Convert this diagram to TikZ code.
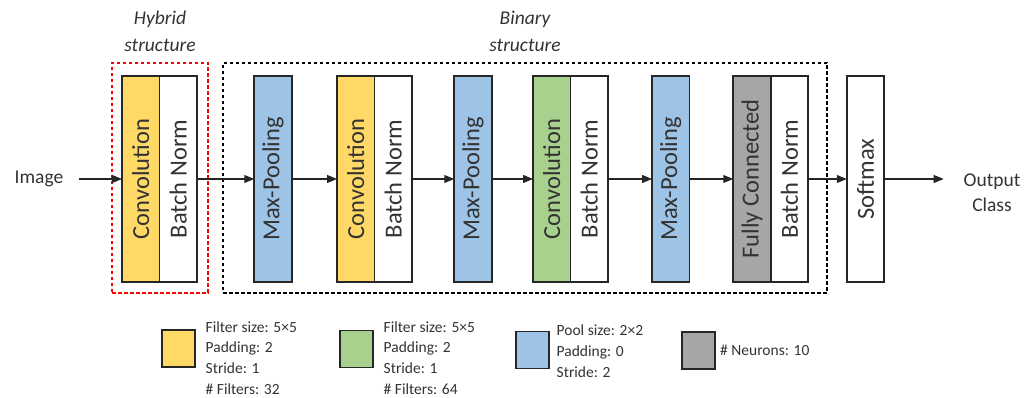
\documentclass[tikz,border=0pt]{standalone}
\usepackage{fontspec}
\setmainfont{Carlito}
\usepackage{graphicx}
\usetikzlibrary{arrows.meta,positioning}
\definecolor{convyellow}{HTML}{FFD966}
\definecolor{convgreen}{HTML}{A9D18E}
\definecolor{poolblue}{HTML}{9DC3E6}
\definecolor{fcgray}{HTML}{A6A6A6}
\definecolor{boxline}{HTML}{262626}
\definecolor{textgray}{HTML}{333333}
\begin{document}
\begin{tikzpicture}
[x=1pt,y=-1pt,
  blockdecorate/.style={shape=rectangle,draw=boxline,line width=1.6pt,minimum width=37.5pt,minimum height=206pt,inner sep=0pt,outer sep=0pt,text=textgray,font=\fontsize{24.5}{28}\selectfont},
  yellowdecorate/.style={blockdecorate,fill=convyellow},
  greendecorate/.style={blockdecorate,fill=convgreen},
  bluedecorate/.style={blockdecorate,fill=poolblue},
  graydecorate/.style={blockdecorate,fill=fcgray},
  whitedecorate/.style={blockdecorate,fill=white},
  framedecorate/.style={shape=rectangle,draw,line width=1.4pt,dash pattern=on 3.5pt off 2.5pt,inner sep=0pt},
  keydecorate/.style={shape=rectangle,draw=boxline,line width=1.6pt,minimum width=33pt,minimum height=37pt,inner sep=0pt},
  keytextdecorate/.style={anchor=west,align=left,inner sep=0pt,text=textgray,font=\fontsize{15.5}{20.7}\selectfont},
  labeldecorate/.style={align=center,inner sep=0pt,text=textgray,font=\fontsize{19.5}{25}\selectfont},
  titledecorate/.style={align=center,inner sep=0pt,text=textgray,font=\fontsize{19.5}{27}\selectfont\itshape},
  linedecorate/.style={-{Triangle[length=10pt,width=8pt]},line width=1.1pt,draw=boxline}]
\useasboundingbox (0,0) rectangle (1034,398);
% frames of the two structures
\node (hybrid) at (160,178) [framedecorate,draw=red,minimum width=96pt,minimum height=230pt] {};
\node (binary) at (525,178) [framedecorate,draw=black,minimum width=604pt,minimum height=230pt] {};
\node (hybridtitle) at (160,31.5) [titledecorate] {Hybrid\\structure};
\node (binarytitle) at (525,31.5) [titledecorate] {Binary\\structure};
% layers
\node (conv1) at (140.75,179) [yellowdecorate] {\rotatebox{90}{Convolution}};
\node (bn1) [whitedecorate,right=0pt of conv1] {\rotatebox{90}{Batch Norm}};
\node (mp1) at (273,179) [bluedecorate] {\rotatebox{90}{Max-Pooling}};
\node (conv2) at (355.75,179) [yellowdecorate] {\rotatebox{90}{Convolution}};
\node (bn2) [whitedecorate,right=0pt of conv2] {\rotatebox{90}{Batch Norm}};
\node (mp2) at (473,179) [bluedecorate] {\rotatebox{90}{Max-Pooling}};
\node (conv3) at (551.75,179) [greendecorate] {\rotatebox{90}{Convolution}};
\node (bn3) [whitedecorate,right=0pt of conv3] {\rotatebox{90}{Batch Norm}};
\node (mp3) at (670.75,179) [bluedecorate] {\rotatebox{90}{Max-Pooling}};
\node (fc) at (752,179) [graydecorate] {\rotatebox{90}{Fully Connected}};
\node (bn4) [whitedecorate,right=0pt of fc] {\rotatebox{90}{Batch Norm}};
\node (softmax) at (865.5,179) [whitedecorate] {\rotatebox{90}{Softmax}};
% input and output
\node (img) at (39,179) [labeldecorate,outer xsep=16pt] {Image};
\node (out) at (992,192.5) [labeldecorate,outer xsep=20pt] {Output\\Class};
% connectors
\path
(img) edge[linedecorate] (conv1)
(bn1) edge[linedecorate] (mp1)
(mp1) edge[linedecorate] (conv2)
(bn2) edge[linedecorate] (mp2)
(mp2) edge[linedecorate] (conv3)
(bn3) edge[linedecorate] (mp3)
(mp3) edge[linedecorate] (fc)
(bn4) edge[linedecorate] (softmax)
(softmax) edge[linedecorate] (softmax -| out.west);
% legend
\node (ykey) at (178.5,348.5) [keydecorate,fill=convyellow] {};
\node (ytext) at (205.5,358) [keytextdecorate] {Filter size: 5×5\\Padding: 2\\Stride: 1\\\# Filters: 32};
\node (gkey) at (356.5,349) [keydecorate,fill=convgreen] {};
\node (gtext) at (383.5,358) [keytextdecorate] {Filter size: 5×5\\Padding: 2\\Stride: 1\\\# Filters: 64};
\node (bkey) at (532.5,350) [keydecorate,fill=poolblue] {};
\node (btext) at (556.5,351) [keytextdecorate] {Pool size: 2×2\\Padding: 0\\Stride: 2};
\node (fkey) at (698.5,350.5) [keydecorate,fill=fcgray] {};
\node (ftext) at (720,350) [keytextdecorate] {\# Neurons: 10};
\end{tikzpicture}
\end{document}
